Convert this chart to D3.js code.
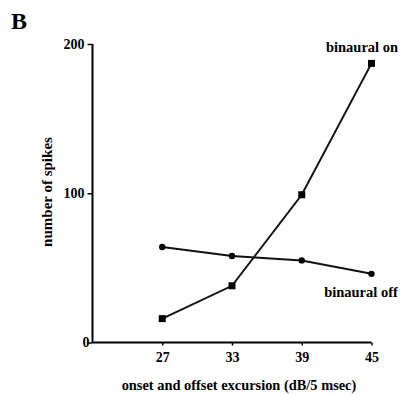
<!DOCTYPE html>
<html>
<head>
<meta charset="utf-8">
<script src="https://cdn.jsdelivr.net/npm/d3@7"></script>
<style>
  body { margin: 0; background: #fff; }
  svg { font-family: "Liberation Serif", "Times New Roman", serif; font-weight: bold; }
</style>
</head>
<body>
<svg id="chart" width="408" height="395"></svg>
<script>
// data
const excursion = [27, 33, 39, 45]
const binauralOn = [16, 38, 99, 187]
const binauralOff = [64, 58, 55, 46]
const yTicks = [0, 100, 200]

const svg = d3.select("#chart")

// scales
const x = d3.scaleLinear().domain([21, 45]).range([92.5, 371.5])
const y = d3.scaleLinear().domain([0, 200]).range([342.5, 44])

// axes
const yAxis = d3.axisLeft(y).tickValues(yTicks).tickSize(5).tickPadding(3)
const xAxis = d3.axisBottom(x).tickValues(excursion).tickSize(3).tickPadding(7)

const gy = svg.append("g").attr("transform", `translate(${x(21)},0)`).call(yAxis)
const gx = svg.append("g").attr("transform", `translate(0,${y(0)})`).call(xAxis)

gy.select(".domain").attr("d", `M0,${y(200)}V${y(0)}`).attr("stroke-width", 2)
gx.select(".domain").attr("d", `M${x(21)},0H${x(45)}`).attr("stroke-width", 2)
gy.selectAll(".tick line").attr("stroke-width", 1.5)
gx.selectAll(".tick line").attr("stroke-width", 1.5)
svg.selectAll(".tick text").style("font-size", "14px").style("font-family", "Liberation Serif").style("font-weight", "bold")
gy.selectAll(".tick text").filter((d) => d === 0).attr("x", -3)

// lines
const line = d3.line().x((d, i) => x(excursion[i])).y((d) => y(d))

svg.append("path").datum(binauralOn).attr("d", line).attr("fill", "none").attr("stroke", "#111").attr("stroke-width", 2)
svg.append("path").datum(binauralOff).attr("d", line).attr("fill", "none").attr("stroke", "#111").attr("stroke-width", 2)

// markers
svg.selectAll(".sq").data(binauralOn).enter().append("rect")
  .attr("x", (d, i) => x(excursion[i]) - 3.5)
  .attr("y", (d) => y(d) - 3.5)
  .attr("width", 7).attr("height", 7)
  .attr("fill", "#000")

svg.selectAll(".dot").data(binauralOff).enter().append("circle")
  .attr("cx", (d, i) => x(excursion[i]))
  .attr("cy", (d) => y(d))
  .attr("r", 3.2)
  .attr("fill", "#000")

// labels
svg.append("text").attr("x", 362).attr("y", 52).attr("text-anchor", "middle").style("font-size", "14.5px").text("binaural on")
svg.append("text").attr("x", 361).attr("y", 297).attr("text-anchor", "middle").style("font-size", "14.5px").text("binaural off")

svg.append("text").attr("x", 239).attr("y", 390).attr("text-anchor", "middle").style("font-size", "14.4px").text("onset and offset excursion (dB/5 msec)")

svg.append("text").attr("transform", "translate(52,192) rotate(-90)").attr("text-anchor", "middle").style("font-size", "15px").text("number of spikes")

svg.append("text").attr("x", 11).attr("y", 29).style("font-size", "24px").text("B")
</script>
</body>
</html>
